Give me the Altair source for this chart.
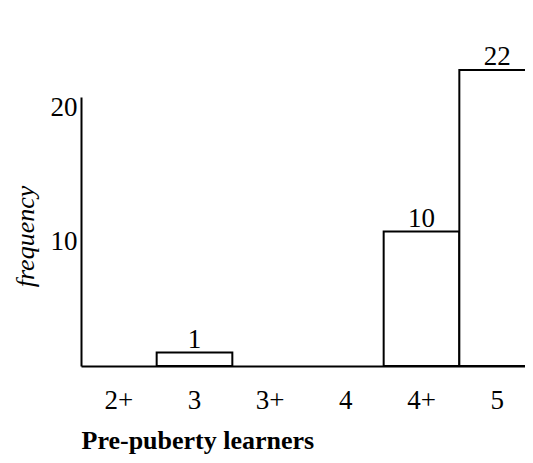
import altair as alt
import pandas as pd

categories = ["2+", "3", "3+", "4", "4+", "5"]
frequencies = [0, 1, 0, 0, 10, 22]
y_ticks = [10, 20]

df = pd.DataFrame({"level": categories, "frequency": frequencies})
FONT = "Liberation Serif"

x_scale = alt.Scale(domain=categories, paddingInner=0, paddingOuter=0, range=[0, 454])

x_enc = alt.X(
    "level:N",
    sort=categories,
    scale=x_scale,
    axis=alt.Axis(
        title="Pre-puberty learners",
        labelAngle=0,
        ticks=False,
        grid=False,
        domainColor="black",
        domainWidth=2,
        labelFont=FONT,
        labelFontSize=27,
        labelColor="black",
        labelPadding=21,
        titleFont=FONT,
        titleFontSize=26,
        titleFontWeight="bold",
        titleColor="black",
        titleAnchor="start",
        titleAlign="left",
        titlePadding=14,
    ),
)

y_enc = alt.Y(
    "frequency:Q",
    scale=alt.Scale(domain=[0, 20], nice=False, zero=True),
    axis=alt.Axis(
        title="frequency",
        values=y_ticks,
        ticks=False,
        grid=False,
        domainColor="black",
        domainWidth=2,
        labelFont=FONT,
        labelFontSize=27,
        labelColor="black",
        labelBaseline="top",
        labelPadding=4,
        labelOffset=-3,
        titleFont=FONT,
        titleFontSize=26,
        titleFontStyle="italic",
        titleFontWeight="normal",
        titleColor="black",
        titleBaseline="middle",
        titleX=-56,
        titleY=139,
    ),
)

nonzero = alt.datum.frequency > 0

bars = alt.Chart(df).transform_filter(nonzero).mark_bar(
    fill="white", stroke="black", strokeWidth=2
).encode(x=x_enc, y=y_enc)

labels = alt.Chart(df).transform_filter(nonzero).mark_text(
    font=FONT, fontSize=27, color="black", baseline="alphabetic", dy=-5
).encode(
    x=alt.X("level:N", sort=categories, scale=x_scale),
    y=alt.Y("frequency:Q"),
    text="frequency:Q",
)

chart = (
    alt.layer(bars, labels)
    .properties(
        width=444,
        height=269,
        background="white",
        autosize=alt.AutoSizeParams(type="none"),
        padding={"left": 73, "top": 89, "right": 0, "bottom": 89},
    )
    .configure_axis(grid=False)
    .configure_view(stroke=None, strokeWidth=0)
)

chart.save("out.html", embed_options={"renderer": "svg", "actions": False})
